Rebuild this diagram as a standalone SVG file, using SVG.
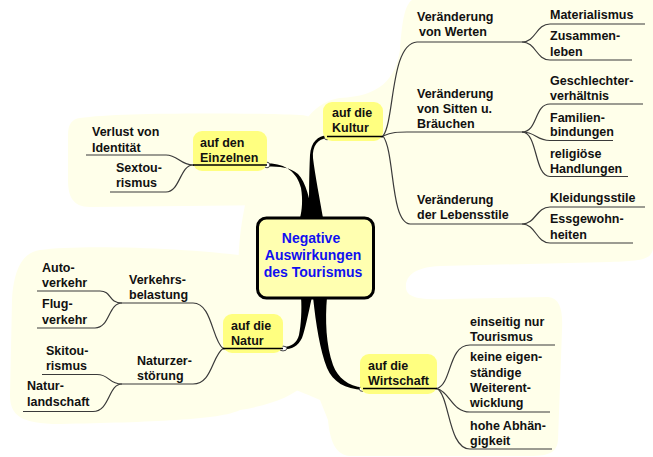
<svg xmlns="http://www.w3.org/2000/svg" width="653" height="457" viewBox="0 0 653 457">
<style>
.bg{fill:#FFFFEA;stroke:none}
.hl{fill:#FFFF80;stroke:none}
.t{font-family:"Liberation Sans",Arial,sans-serif;font-weight:bold;font-size:12.5px;fill:#111}
.c{font-family:"Liberation Sans",Arial,sans-serif;font-weight:bold;font-size:14px;fill:#1010F0;text-anchor:middle}
.sub{fill:none;stroke:#3a3a3a;stroke-width:1.2}
.ul{fill:none;stroke:#000;stroke-width:1.6}
.wedge{fill:#000;stroke:none}
.dot{fill:#fff;stroke:#444;stroke-width:1}
</style>
<rect width="653" height="457" fill="#fff"/>
<g id="background">
<path class="bg" d="M412,0 H653 V248 C652,260 640,261 610,262 L440,266 C415,267 405,276 406,288 C407,298 420,300 450,299 L548,297 C560,298 563,310 562,330 L558,440 C557,452 550,456 530,456 L350,456 C335,455 330,440 328,420 L320,400 C300,390 260,380 245,360 L240,300 C236,260 240,230 245,205 C250,180 280,160 300,130 C310,110 325,100 340,98 C380,96 395,80 400,50 C402,20 405,5 412,0 Z"/>
<path class="bg" d="M80,118 C120,112 250,113 300,115 C320,116 325,130 325,150 C325,190 310,205 270,205 L90,207 C72,207 68,195 68,180 L68,135 C68,124 72,119 80,118 Z"/>
<path class="bg" d="M40,250 C80,244 200,248 260,258 C300,264 320,300 320,340 C320,380 300,400 240,410 C220,420 150,422 60,424 C20,424 10,415 10,395 L12,300 C14,265 25,252 40,250 Z"/>
</g>
<g id="connectors">
<path class="wedge" d="M267,163.5 C285,163 297,172 301,188 C303,200 302,210 300,218 L313,218 C310,200 306,182 298,174 C290,167 280,166.5 267,166.5 Z"/>
<path class="wedge" d="M327,135.5 C318,135.5 311,142 310,155 C309,175 309,200 309,218 L323,218 C320,200 315,175 313,158 C312,146 318,138.5 327,138.5 Z"/>
<path class="wedge" d="M301,297 L312,297 C308,315 305,330 302,338 C298,346 292,349.5 283,349.5 L283,347 C291,347 297,343 299,335 C301,325 302,310 301,297 Z"/>
<path class="wedge" d="M313,297 L327,297 C325,320 326,345 333,365 C338,378 348,386 363,387.5 L363,390 C345,389 333,382 327,368 C320,350 316,325 313,297 Z"/>
<path class="ul" d="M193,165 H267"/>
<path class="ul" d="M327,136.5 H383"/>
<path class="ul" d="M223,348.5 H283"/>
<path class="ul" d="M363,388.5 H437"/>
<path class="sub" d="M193,165 C180,165 178,155 166,155 H86"/>
<path class="sub" d="M193,165 C180,165 180,192 166,192 H110"/>
<path class="sub" d="M383,136 C395,120 390,44 417,42 H522"/>
<path class="sub" d="M383,136 C392,132 398,132 407,132 H522"/>
<path class="sub" d="M383,136 C395,152 390,222 410,224 H522"/>
<path class="sub" d="M522,42 C536,42 536,24 550,24 H645"/>
<path class="sub" d="M522,42 C536,42 536,60 550,60 H632"/>
<path class="sub" d="M522,132 C538,132 534,104 550,104 H643"/>
<path class="sub" d="M522,132 C536,132 536,140.5 550,140.5 H613"/>
<path class="sub" d="M522,132 C538,132 534,176.5 550,176.5 H628"/>
<path class="sub" d="M522,224 C536,224 536,207 550,207 H645"/>
<path class="sub" d="M522,224 C536,224 536,243 550,243 H633"/>
<path class="sub" d="M223,348.5 C212,340 212,303 193,303 H122"/>
<path class="sub" d="M223,348.5 C212,356 212,384 193,384 H122"/>
<path class="sub" d="M122,303 C108,303 112,291 100,291 H37"/>
<path class="sub" d="M122,303 C108,303 110,328 95,328 H37"/>
<path class="sub" d="M122,384 C108,384 110,374.5 97,374.5 H42"/>
<path class="sub" d="M122,384 C108,384 110,411.5 93,411.5 H23"/>
<path class="sub" d="M437,388.5 C452,384 448,345 470,345 H555"/>
<path class="sub" d="M437,388.5 C450,392 452,412 470,412 H550"/>
<path class="sub" d="M437,388.5 C450,396 448,449 470,449 H552"/>
<circle class="dot" cx="267" cy="165" r="2.8"/>
<circle class="dot" cx="327" cy="137" r="2.8"/>
<ellipse class="dot" cx="283" cy="348.5" rx="3.8" ry="2.4"/>
<ellipse class="dot" cx="363" cy="389" rx="3.8" ry="2.4"/>
</g>
<g id="center">
<rect x="257.5" y="218" width="116" height="80" rx="9" fill="#FFFFB0" stroke="#000" stroke-width="3"/>
<text class="c" x="311" y="243">Negative</text>
<text class="c" x="313" y="260">Auswirkungen</text>
<text class="c" x="313" y="277">des Tourismus</text>
</g>
<g id="n-einzelnen">
<rect class="hl" x="193" y="131" width="74" height="40" rx="9"/>
<path class="ul" d="M193,165 H267"/>
<text class="t" x="200" y="147">auf den</text>
<text class="t" x="200" y="162">Einzelnen</text>
</g>
<g id="n-identitaet"><text class="t" x="92" y="136">Verlust von</text><text class="t" x="92" y="151.5">Identität</text></g>
<g id="n-sextourismus"><text class="t" x="116" y="172">Sextou-</text><text class="t" x="116" y="187">rismus</text></g>
<g id="n-kultur">
<rect class="hl" x="323" y="102" width="60" height="39" rx="9"/>
<path class="ul" d="M327,136.5 H383"/>
<text class="t" x="332" y="117">auf die</text>
<text class="t" x="332" y="132">Kultur</text>
</g>
<g id="n-werten"><text class="t" x="417" y="20.5">Veränderung</text><text class="t" x="419" y="36">von Werten</text></g>
<g id="n-materialismus"><text class="t" x="550" y="18.5">Materialismus</text></g>
<g id="n-zusammenleben"><text class="t" x="550" y="40">Zusammen-</text><text class="t" x="550" y="55.5">leben</text></g>
<g id="n-sitten"><text class="t" x="417" y="97.5">Veränderung</text><text class="t" x="417" y="112.5">von Sitten u.</text><text class="t" x="417" y="128">Bräuchen</text></g>
<g id="n-geschlechter"><text class="t" x="550" y="85">Geschlechter-</text><text class="t" x="550" y="100">verhältnis</text></g>
<g id="n-familien"><text class="t" x="550" y="121.5">Familien-</text><text class="t" x="550" y="136">bindungen</text></g>
<g id="n-religioese"><text class="t" x="550" y="158">religiöse</text><text class="t" x="550" y="173">Handlungen</text></g>
<g id="n-lebensstile"><text class="t" x="417" y="204">Veränderung</text><text class="t" x="417" y="219">der Lebensstile</text></g>
<g id="n-kleidung"><text class="t" x="550" y="201.5">Kleidungsstile</text></g>
<g id="n-essgewohnheiten"><text class="t" x="550" y="223">Essgewohn-</text><text class="t" x="550" y="238.5">heiten</text></g>
<g id="n-natur">
<rect class="hl" x="223" y="314" width="60" height="39" rx="9"/>
<path class="ul" d="M223,348.5 H283"/>
<text class="t" x="231" y="330">auf die</text>
<text class="t" x="231" y="344.5">Natur</text>
</g>
<g id="n-verkehr"><text class="t" x="129" y="284">Verkehrs-</text><text class="t" x="129" y="299">belastung</text></g>
<g id="n-auto"><text class="t" x="42" y="272">Auto-</text><text class="t" x="42" y="287">verkehr</text></g>
<g id="n-flug"><text class="t" x="42" y="308">Flug-</text><text class="t" x="42" y="324">verkehr</text></g>
<g id="n-naturzer"><text class="t" x="137" y="365">Naturzer-</text><text class="t" x="137" y="380">störung</text></g>
<g id="n-ski"><text class="t" x="46" y="355">Skitou-</text><text class="t" x="46" y="370">rismus</text></g>
<g id="n-landschaft"><text class="t" x="27" y="390">Natur-</text><text class="t" x="27" y="405.5">landschaft</text></g>
<g id="n-wirtschaft">
<rect class="hl" x="360" y="354" width="77" height="40" rx="9"/>
<path class="ul" d="M363,388.5 H437"/>
<text class="t" x="368" y="369.5">auf die</text>
<text class="t" x="368" y="384.5">Wirtschaft</text>
</g>
<g id="n-einseitig"><text class="t" x="470" y="326">einseitig nur</text><text class="t" x="470" y="340.5">Tourismus</text></g>
<g id="n-eigen"><text class="t" x="470" y="360.5">keine eigen-</text><text class="t" x="470" y="376.5">ständige</text><text class="t" x="470" y="391.5">Weiterent-</text><text class="t" x="470" y="407">wicklung</text></g>
<g id="n-abhaengig"><text class="t" x="470" y="430">hohe Abhän-</text><text class="t" x="470" y="445">gigkeit</text></g>
</svg>
